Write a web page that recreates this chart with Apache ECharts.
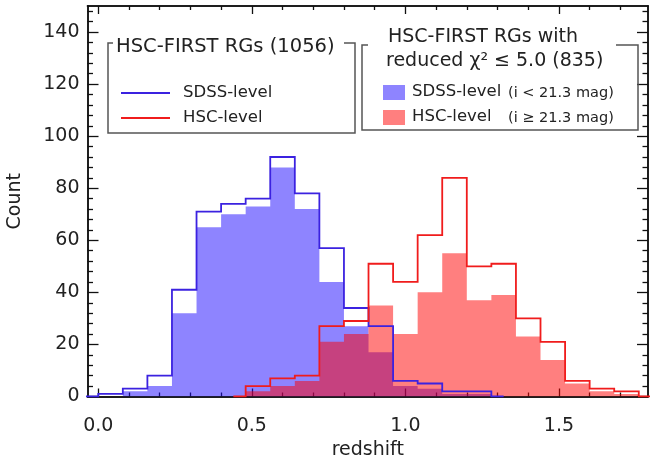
<!DOCTYPE html>
<html>
<head>
<meta charset="utf-8">
<script src="https://cdn.jsdelivr.net/npm/echarts@6/dist/echarts.min.js"></script>
<style>
  html, body { margin: 0; background: #fff; }
  #chart { width: 658px; height: 456px; }
</style>
</head>
<body>
<div id="chart"></div>
<script>
// 直方图的 bin 边界（redshift，宽 0.08）
const binEdges = [0.00, 0.08, 0.16, 0.24, 0.32, 0.40, 0.48, 0.56, 0.64, 0.72, 0.80, 0.88,
                  0.96, 1.04, 1.12, 1.20, 1.28, 1.36, 1.44, 1.52, 1.60, 1.68, 1.76, 1.84];
// 全部 HSC-FIRST RGs (1056)：空心折线
const sdssAll = [1, 3, 8, 41, 71, 74, 76, 92, 78, 57, 34, 27, 6, 5, 2, 2, 0, 0, 0, 0, 0, 0, 0];
const hscAll  = [0, 0, 0, 0, 0, 0, 4, 7, 8, 27, 29, 51, 44, 62, 84, 50, 51, 30, 21, 6, 3, 2, 0];
// reduced chi2 <= 5.0 (835)：填充
const sdssFit = [0, 2, 4, 32, 65, 70, 73, 88, 72, 44, 27, 17, 4, 3, 1, 1, 0, 0, 0, 0, 0, 0, 0];
const hscFit  = [0, 0, 0, 0, 0, 0, 2, 4, 6, 21, 24, 35, 24, 40, 55, 37, 39, 23, 14, 5, 2, 1, 0];
// 刻度
const xMajorTicks = [0.0, 0.5, 1.0, 1.5];
const xMinorTicks = [0.1, 0.2, 0.3, 0.4, 0.6, 0.7, 0.8, 0.9, 1.1, 1.2, 1.3, 1.4, 1.6, 1.7];
const yMajorTicks = [0, 20, 40, 60, 80, 100, 120, 140];
const yMinorTicks = [4, 8, 12, 16, 24, 28, 32, 36, 44, 48, 52, 56, 64, 68, 72, 76,
                     84, 88, 92, 96, 104, 108, 112, 116, 124, 128, 132, 136, 144, 148];

const FONT = 'DejaVu Sans';
const blueLine = '#3b22e0';
const redLine = '#f01c1c';
const blueFill = 'rgba(30,10,255,0.5)';
const redFill = 'rgba(255,0,0,0.5)';

// 填充用的阶梯点
function fillPoints(vals) {
    const pts = vals.map((v, i) => [binEdges[i], v]);
    pts.push([binEdges[vals.length], 0]);
    return pts;
}
// 外框线：从第一个非零 bin 前半格开始，到最后一个非零 bin 后半格结束
function outlinePoints(vals) {
    const first = vals.findIndex(v => v > 0);
    let last = vals.length - 1;
    while (vals[last] === 0) last--;
    const half = (binEdges[1] - binEdges[0]) / 2;
    const pts = [[binEdges[first] - half, 0]];
    for (let i = first; i <= last; i++) pts.push([binEdges[i], vals[i]]);
    pts.push([binEdges[last + 1], 0]);
    pts.push([binEdges[last + 1] + half, 0]);
    return pts;
}

function xAxisOf(pos, ticks, len, withLabel) {
    return {
        type: 'value', position: pos, min: -0.035, max: 1.79,
        axisLine: { show: true, onZero: false, lineStyle: { color: '#111', width: 1.5 } },
        axisTick: { show: true, inside: true, length: len, customValues: ticks,
                    lineStyle: { color: '#111', width: 1.3 } },
        axisLabel: withLabel ? {
            show: true, customValues: ticks, margin: 20,
            formatter: v => v.toFixed(1),
            color: '#222', fontSize: 19, fontFamily: FONT
        } : { show: false },
        splitLine: { show: false }
    };
}
function yAxisOf(pos, ticks, len, withLabel) {
    return {
        type: 'value', position: pos, min: 0, max: 150,
        axisLine: { show: true, onZero: false, lineStyle: { color: '#111', width: 1.5 } },
        axisTick: { show: true, inside: true, length: len, customValues: ticks,
                    lineStyle: { color: '#111', width: 1.3 } },
        axisLabel: withLabel ? {
            show: true, customValues: ticks, margin: 8,
            color: '#222', fontSize: 19, fontFamily: FONT
        } : { show: false },
        splitLine: { show: false }
    };
}

const xAxes = [
    xAxisOf('bottom', xMajorTicks, 8, true),
    xAxisOf('bottom', xMinorTicks, 4, false),
    xAxisOf('top', xMajorTicks, 8, false),
    xAxisOf('top', xMinorTicks, 4, false)
];
xAxes[0].name = 'redshift';
xAxes[0].nameLocation = 'middle';
xAxes[0].nameGap = 44;
xAxes[0].nameTextStyle = { color: '#222', fontSize: 19, fontFamily: FONT };

const yAxes = [
    yAxisOf('left', yMajorTicks, 11, true),
    yAxisOf('left', yMinorTicks, 5.5, false),
    yAxisOf('right', yMajorTicks, 11, false),
    yAxisOf('right', yMinorTicks, 5.5, false)
];
yAxes[0].name = 'Count';
yAxes[0].nameLocation = 'middle';
yAxes[0].nameGap = 63;
yAxes[0].nameTextStyle = { color: '#222', fontSize: 19, fontFamily: FONT };

function fillSeries(vals, color) {
    return {
        type: 'line', step: 'end', data: fillPoints(vals),
        symbol: 'none', silent: true,
        lineStyle: { width: 0, opacity: 0 },
        areaStyle: { color: color, opacity: 1 }
    };
}
function outlineSeries(vals, color) {
    return {
        type: 'line', step: 'end', data: outlinePoints(vals),
        symbol: 'none', silent: true,
        lineStyle: { color: color, width: 1.8, join: 'miter' }
    };
}

function txt(x, y, s, size) {
    return { type: 'text', x: x, y: y, z: 100,
             style: { text: s, fontSize: size, fontFamily: FONT, fill: '#222', verticalAlign: 'middle' } };
}

const myChart = echarts.init(document.getElementById('chart'));
const option = {
    animation: false,
    grid: { left: 87.5, right: 10, top: 6, bottom: 59.5, containLabel: false, outerBoundsMode: 'none' },
    xAxis: xAxes,
    yAxis: yAxes,
    series: [
        fillSeries(sdssFit, blueFill),
        fillSeries(hscFit, redFill),
        outlineSeries(sdssAll, blueLine),
        outlineSeries(hscAll, redLine)
    ],
    graphic: [
        // 左边图例框
        { type: 'polyline', z: 100,
          shape: { points: [[113, 43], [108, 43], [108, 133], [355, 133], [355, 43], [344, 43]] },
          style: { stroke: '#555', lineWidth: 1.5, fill: null } },
        txt(116, 47, 'HSC-FIRST RGs (1056)', 19.5),
        { type: 'line', z: 100, shape: { x1: 121, y1: 93, x2: 170, y2: 93 },
          style: { stroke: blueLine, lineWidth: 1.8 } },
        txt(183, 93, 'SDSS-level', 16.5),
        { type: 'line', z: 100, shape: { x1: 121, y1: 118, x2: 170, y2: 118 },
          style: { stroke: redLine, lineWidth: 1.8 } },
        txt(183, 118, 'HSC-level', 16.5),
        // 右边图例框
        { type: 'polyline', z: 100,
          shape: { points: [[368, 45], [362, 45], [362, 130], [638, 130], [638, 45], [616, 45]] },
          style: { stroke: '#555', lineWidth: 1.5, fill: null } },
        txt(388, 37, 'HSC-FIRST RGs with', 19),
        txt(386, 61, 'reduced χ² ≤ 5.0 (835)', 19),
        { type: 'rect', z: 100, shape: { x: 383, y: 85, width: 22, height: 15 },
          style: { fill: blueFill } },
        txt(412, 92, 'SDSS-level', 16.5),
        txt(508, 93, '(i < 21.3 mag)', 14.5),
        { type: 'rect', z: 100, shape: { x: 383, y: 110, width: 22, height: 15 },
          style: { fill: redFill } },
        txt(412, 117, 'HSC-level', 16.5),
        txt(508, 118, '(i ≥ 21.3 mag)', 14.5)
    ]
};
myChart.setOption(option);
</script>
</body>
</html>
